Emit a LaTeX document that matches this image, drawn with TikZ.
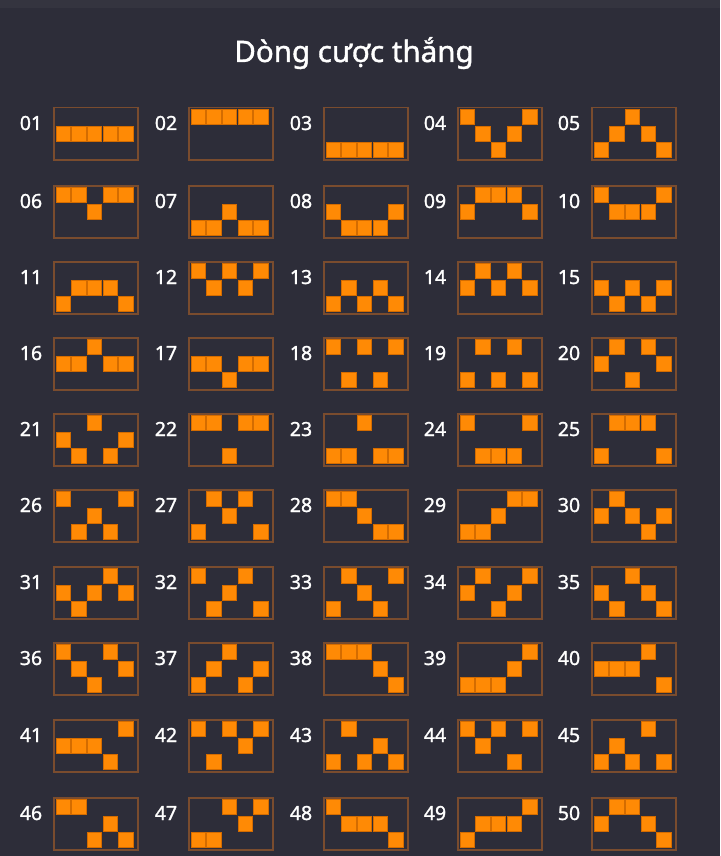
\documentclass[tikz,border=0pt]{standalone}
\usepackage{fontspec}
\setmainfont{Noto Sans}
\newfontfamily\lblfont[FakeBold=1.3]{Noto Sans}
\definecolor{bg}{HTML}{2D2D39}
\definecolor{topbar}{HTML}{34343F}
\definecolor{frame}{HTML}{7A4C2E}
\definecolor{sq}{HTML}{FF8A05}
\definecolor{sqedge}{HTML}{D46C00}
\begin{document}
\begin{tikzpicture}[x=1pt,y=-1pt,
  linebox/.style={draw=frame, line width=1.5pt, minimum width=84pt, minimum height=52pt, inner sep=0pt, anchor=north west},
  lbl/.style={text=white, font=\lblfont\fontsize{19.5}{19.5}\selectfont, anchor=base, inner sep=0pt},
  cell/.style={fill=sq, draw=sqedge, line width=0.6pt}]
\fill[bg] (0,0) rectangle (720,856);
\fill[topbar] (0,0) rectangle (720,8);
\useasboundingbox (0,0) rectangle (720,856);
\node[text=white, font=\lblfont\fontsize{29.5}{29.5}\selectfont, anchor=base, inner sep=0pt] (title) at (354,62) {Dòng cược thắng};
\foreach \n/\p [count=\i from 0] in {
  01/{1,1,1,1,1}, 02/{0,0,0,0,0}, 03/{2,2,2,2,2}, 04/{0,1,2,1,0}, 05/{2,1,0,1,2},
  06/{0,0,1,0,0}, 07/{2,2,1,2,2}, 08/{1,2,2,2,1}, 09/{1,0,0,0,1}, 10/{0,1,1,1,0},
  11/{2,1,1,1,2}, 12/{0,1,0,1,0}, 13/{2,1,2,1,2}, 14/{1,0,1,0,1}, 15/{1,2,1,2,1},
  16/{1,1,0,1,1}, 17/{1,1,2,1,1}, 18/{0,2,0,2,0}, 19/{2,0,2,0,2}, 20/{1,0,2,0,1},
  21/{1,2,0,2,1}, 22/{0,0,2,0,0}, 23/{2,2,0,2,2}, 24/{0,2,2,2,0}, 25/{2,0,0,0,2},
  26/{0,2,1,2,0}, 27/{2,0,1,0,2}, 28/{0,0,1,2,2}, 29/{2,2,1,0,0}, 30/{1,0,1,2,1},
  31/{1,2,1,0,1}, 32/{0,2,1,0,2}, 33/{2,0,1,2,0}, 34/{1,0,2,1,0}, 35/{1,2,0,1,2},
  36/{0,1,2,0,1}, 37/{2,1,0,2,1}, 38/{0,0,0,1,2}, 39/{2,2,2,1,0}, 40/{1,1,1,0,2},
  41/{1,1,1,2,0}, 42/{0,2,0,1,0}, 43/{2,0,2,1,2}, 44/{0,1,0,2,0}, 45/{2,1,2,0,2},
  46/{0,0,2,1,2}, 47/{2,2,0,1,0}, 48/{0,1,1,1,2}, 49/{2,1,1,1,0}, 50/{1,0,0,1,2}}{
  \pgfmathtruncatemacro\c{mod(\i,5)}
  \pgfmathtruncatemacro\r{div(\i,5)}
  \pgfmathsetmacro\bx{{53,188,323,457,591}[\c]}
  \pgfmathsetmacro\by{{107,185,261,337,413,489,566,642,719,797}[\r]}
  \node[linebox] (b\n) at (\bx,\by) {};
  \node[lbl] (l\n) at (\bx-22,\by+23) {\n};
  \foreach \v [count=\k from 0] in \p {
    \fill[cell] ({\bx+10.2+15.6*\k-7.2},{\by+10+16.5*\v-7.3}) rectangle ({\bx+10.2+15.6*\k+7.2},{\by+10+16.5*\v+7.3});
  }
}
\end{tikzpicture}
\end{document}
